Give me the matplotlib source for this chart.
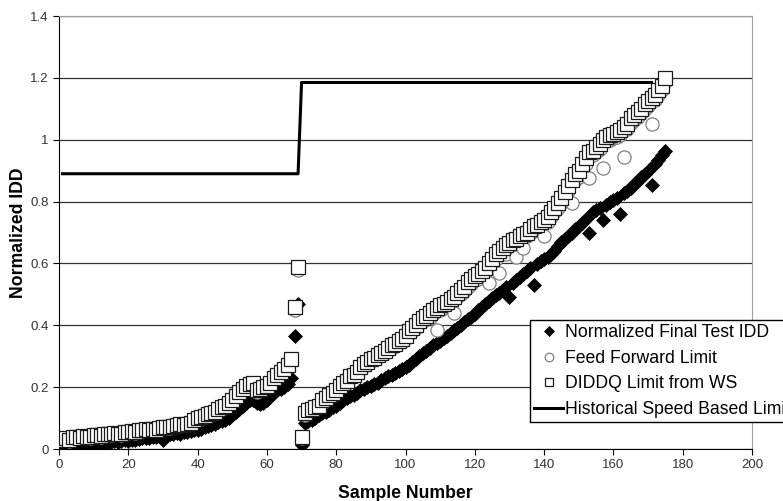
import matplotlib
matplotlib.use("Agg")
from matplotlib import pyplot as plt

plt.rcParams['font.family'] = ['Liberation Sans', 'DejaVu Sans']

# sample numbers 1..175
samples = list(range(1, 176))

# Normalized final test IDD (diamonds)
final_idd = [
    0.010, 0.012, 0.008, 0.014, 0.012, 0.015, 0.016, 0.014, 0.017, 0.018,
    0.018, 0.020, 0.010, 0.022, 0.024, 0.025, 0.023, 0.026, 0.028, 0.027,
    0.030, 0.028, 0.032, 0.035, 0.036, 0.034, 0.038, 0.040, 0.042, 0.030,
    0.045, 0.047, 0.050, 0.052, 0.050, 0.054, 0.056, 0.058, 0.060, 0.062,
    0.066, 0.070, 0.074, 0.078, 0.082, 0.088, 0.090, 0.095, 0.100, 0.110,
    0.120, 0.130, 0.140, 0.150, 0.158, 0.160, 0.150, 0.145, 0.150, 0.160,
    0.170, 0.180, 0.190, 0.195, 0.200, 0.210, 0.230, 0.365, 0.470,
    0.012,
    0.085, 0.090, 0.095, 0.100, 0.110, 0.115, 0.120, 0.125, 0.135, 0.140,
    0.150, 0.158, 0.165, 0.170, 0.175, 0.180, 0.190, 0.195, 0.200, 0.205,
    0.210, 0.215, 0.222, 0.228, 0.235, 0.240, 0.245, 0.252, 0.258, 0.265,
    0.272, 0.280, 0.290, 0.300, 0.310, 0.318, 0.326, 0.335, 0.342, 0.350,
    0.358, 0.366, 0.374, 0.385, 0.392, 0.400, 0.410, 0.420, 0.428, 0.438,
    0.448, 0.458, 0.468, 0.478, 0.488, 0.498, 0.505, 0.515, 0.525, 0.490,
    0.538, 0.548, 0.556, 0.565, 0.575, 0.585, 0.530, 0.598, 0.608, 0.615,
    0.620, 0.630, 0.640, 0.655, 0.668, 0.680, 0.690, 0.700, 0.712, 0.722,
    0.732, 0.745, 0.700, 0.765, 0.772, 0.780, 0.740, 0.790, 0.798, 0.805,
    0.812, 0.760, 0.828, 0.835, 0.845, 0.858, 0.868, 0.878, 0.890, 0.900,
    0.855, 0.920, 0.935, 0.950, 0.965,
]

# Feed forward limit (circles)
feed_forward = [
    0.028, 0.032, 0.026, 0.035, 0.037, 0.034, 0.040, 0.038, 0.036, 0.041,
    0.042, 0.040, 0.045, 0.047, 0.045, 0.049, 0.048, 0.046, 0.051, 0.052,
    0.055, 0.053, 0.059, 0.057, 0.061, 0.060, 0.063, 0.060, 0.065, 0.067,
    0.069, 0.067, 0.072, 0.075, 0.077, 0.076, 0.079, 0.082, 0.091, 0.096,
    0.098, 0.104, 0.108, 0.111, 0.116, 0.125, 0.130, 0.135, 0.145, 0.155,
    0.165, 0.180, 0.190, 0.200, 0.205, 0.207, 0.185, 0.190, 0.195, 0.200,
    0.210, 0.225, 0.235, 0.245, 0.255, 0.265, 0.285, 0.450, 0.580,
    0.035,
    0.110, 0.120, 0.125, 0.130, 0.135, 0.150, 0.160, 0.170, 0.175, 0.185,
    0.200, 0.210, 0.215, 0.228, 0.235, 0.245, 0.258, 0.268, 0.275, 0.285,
    0.290, 0.298, 0.305, 0.312, 0.318, 0.328, 0.335, 0.342, 0.350, 0.358,
    0.372, 0.382, 0.390, 0.405, 0.415, 0.420, 0.425, 0.435, 0.385, 0.450,
    0.455, 0.462, 0.475, 0.440, 0.490, 0.500, 0.512, 0.525, 0.535, 0.545,
    0.550, 0.560, 0.570, 0.536, 0.600, 0.615, 0.570, 0.635, 0.630, 0.650,
    0.660, 0.620, 0.675, 0.650, 0.690, 0.700, 0.705, 0.712, 0.720, 0.690,
    0.735, 0.750, 0.765, 0.780, 0.795, 0.815, 0.835, 0.795, 0.870, 0.880,
    0.900, 0.920, 0.875, 0.950, 0.960, 0.970, 0.910, 0.995, 1.000, 1.005,
    1.010, 1.015, 0.945, 1.035, 1.055, 1.065, 1.075, 1.085, 1.100, 1.110,
    1.050, 1.130, 1.145, 1.160, 1.185,
]

# DIDDQ limit from WS (squares)
diddq = [
    0.030, 0.035, 0.028, 0.038, 0.040, 0.036, 0.042, 0.040, 0.038, 0.044,
    0.045, 0.042, 0.048, 0.050, 0.047, 0.052, 0.050, 0.048, 0.054, 0.055,
    0.058, 0.055, 0.062, 0.060, 0.064, 0.063, 0.066, 0.062, 0.068, 0.070,
    0.072, 0.070, 0.075, 0.078, 0.080, 0.079, 0.082, 0.085, 0.095, 0.100,
    0.102, 0.108, 0.112, 0.115, 0.120, 0.130, 0.135, 0.140, 0.150, 0.160,
    0.170, 0.185, 0.195, 0.205, 0.210, 0.212, 0.190, 0.195, 0.200, 0.205,
    0.215, 0.230, 0.240, 0.250, 0.260, 0.270, 0.290, 0.460, 0.590,
    0.040,
    0.115, 0.125, 0.130, 0.135, 0.140, 0.160, 0.165, 0.175, 0.180, 0.190,
    0.205, 0.215, 0.220, 0.235, 0.240, 0.250, 0.265, 0.275, 0.280, 0.290,
    0.295, 0.305, 0.310, 0.318, 0.325, 0.335, 0.340, 0.350, 0.355, 0.365,
    0.380, 0.390, 0.400, 0.415, 0.425, 0.430, 0.440, 0.450, 0.455, 0.465,
    0.470, 0.475, 0.485, 0.490, 0.505, 0.515, 0.525, 0.540, 0.550, 0.560,
    0.565, 0.575, 0.585, 0.600, 0.615, 0.630, 0.640, 0.650, 0.660, 0.665,
    0.675, 0.680, 0.690, 0.695, 0.700, 0.710, 0.720, 0.725, 0.735, 0.740,
    0.750, 0.765, 0.780, 0.795, 0.810, 0.830, 0.850, 0.870, 0.890, 0.900,
    0.920, 0.940, 0.960, 0.965, 0.975, 0.985, 1.000, 1.010, 1.015, 1.020,
    1.025, 1.030, 1.040, 1.050, 1.070, 1.080, 1.090, 1.100, 1.115, 1.125,
    1.135, 1.145, 1.160, 1.175, 1.200,
]

# Historical speed based limit (step line)
hist_x = [1, 69, 70, 171]
hist_y = [0.89, 0.89, 1.185, 1.185]

fig = plt.figure(figsize=(7.83, 5.01), dpi=100)
ax = fig.add_axes([59 / 783, 1 - 449 / 501, (752 - 59) / 783, (449 - 16) / 501])

ax.plot(samples, final_idd, linestyle='none', marker='D', markersize=7.2,
        color='black', markeredgewidth=0.5, label='Normalized Final Test IDD', zorder=3)
ax.plot(samples, feed_forward, linestyle='none', marker='o', markersize=9.5,
        markerfacecolor='white', markeredgecolor='#808080', markeredgewidth=0.9,
        label='Feed Forward Limit', zorder=4)
ax.plot(samples, diddq, linestyle='none', marker='s', markersize=9.5,
        markerfacecolor='white', markeredgecolor='#1a1a1a', markeredgewidth=0.9,
        label='DIDDQ Limit from WS', zorder=5)
ax.plot(hist_x, hist_y, '-', color='black', linewidth=2.2,
        label='Historical Speed Based Limit', zorder=2)

ax.set_xlim(0, 200)
ax.set_ylim(0, 1.4)
ax.set_xticks(range(0, 201, 20))
ax.set_yticks([0, 0.2, 0.4, 0.6, 0.8, 1.0, 1.2, 1.4])
ax.set_yticklabels(['0', '0.2', '0.4', '0.6', '0.8', '1', '1.2', '1.4'])
ax.tick_params(direction='out', length=4, width=0.8, labelsize=9.5,
               labelcolor='#333333', color='black')

ax.yaxis.grid(True, color='#333333', linewidth=0.9)
ax.set_axisbelow(True)

ax.spines['left'].set_color('black')
ax.spines['bottom'].set_color('black')
ax.spines['top'].set_color('#a0a0a0')
ax.spines['right'].set_color('#a0a0a0')

ax.set_xlabel('Sample Number', fontsize=12.7, fontweight='bold', labelpad=10)
ax.set_ylabel('Normalized IDD', fontsize=12.7, fontweight='bold', labelpad=2)

leg = ax.legend(loc='upper left', bbox_to_anchor=(530 / 783, 1 - 320 / 501),
                bbox_transform=fig.transFigure, borderaxespad=0, fontsize=12.7,
                fancybox=False, edgecolor='black', framealpha=1,
                markerscale=0.65, handlelength=1.6, handletextpad=0.15,
                labelspacing=0.48, borderpad=0.25)
leg.get_frame().set_linewidth(1.0)

fig.savefig('out.png', dpi=100)
